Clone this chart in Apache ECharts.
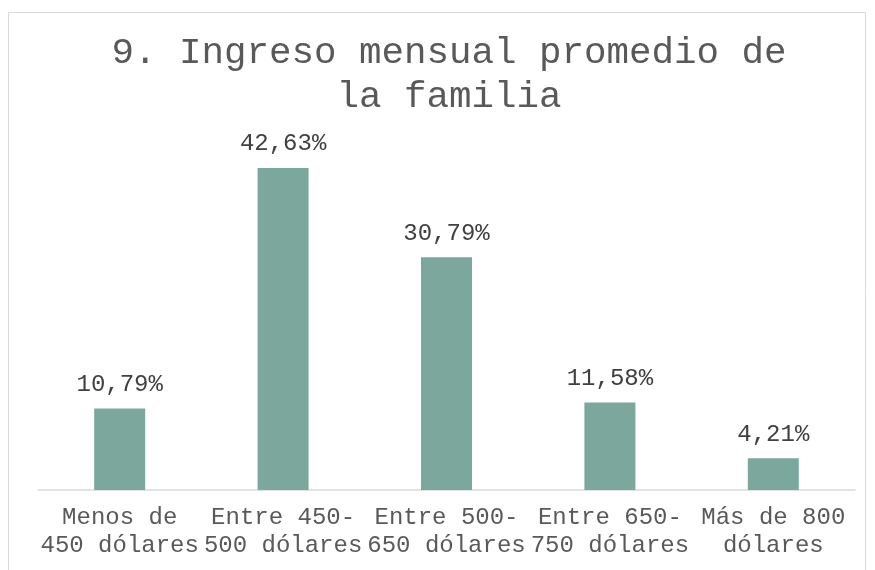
<!DOCTYPE html>
<html>
<head>
<meta charset="utf-8">
<script src="https://cdn.jsdelivr.net/npm/echarts@6/dist/echarts.min.js"></script>
<style>
  html, body { margin: 0; padding: 0; background: #fff; }
  #container { width: 875px; height: 570px; }
</style>
</head>
<body>
<div id="container"></div>
<script>
// categorias e valores
const categorias = [
    'Menos de\n450 dólares',
    'Entre 450-\n500 dólares',
    'Entre 500-\n650 dólares',
    'Entre 650-\n750 dólares',
    'Más de 800\ndólares'
];
const valores = [10.79, 42.63, 30.79, 11.58, 4.21];

const FONTE = '"Liberation Mono", "DejaVu Sans Mono", monospace';

const chart = echarts.init(document.getElementById('container'), null, { renderer: 'canvas' });

const option = {
    backgroundColor: '#ffffff',
    animation: false,
    graphic: [
        {
            type: 'rect',
            shape: { x: 8.5, y: 12.5, width: 857, height: 600 },
            style: { fill: 'none', stroke: '#d9d9d9', lineWidth: 1 },
            silent: true
        }
    ],
    title: {
        text: '9. Ingreso mensual promedio de\nla familia',
        left: 444,
        textAlign: 'center',
        top: 26,
        textStyle: {
            fontFamily: FONTE,
            fontSize: 37.5,
            fontWeight: 'normal',
            color: '#595959',
            lineHeight: 44
        }
    },
    grid: {
        left: 38,
        right: 20,
        top: 150,
        bottom: 80
    },
    xAxis: {
        type: 'category',
        data: categorias,
        axisLine: { lineStyle: { color: '#d9d9d9', width: 1.5 } },
        axisTick: { show: false },
        axisLabel: {
            interval: 0,
            margin: 14,
            fontFamily: FONTE,
            fontSize: 24,
            lineHeight: 28,
            color: '#595959'
        }
    },
    yAxis: {
        type: 'value',
        min: 0,
        max: 45,
        show: false,
        splitLine: { show: false }
    },
    series: [
        {
            type: 'bar',
            data: valores,
            barWidth: 51,
            itemStyle: { color: '#7ba79d' },
            label: {
                show: true,
                position: 'top',
                distance: 12,
                fontFamily: FONTE,
                fontSize: 24,
                color: '#404040',
                formatter: p => p.value.toFixed(2).replace('.', ',') + '%'
            }
        }
    ]
};

chart.setOption(option);
window.addEventListener('resize', () => chart.resize());
</script>
</body>
</html>
